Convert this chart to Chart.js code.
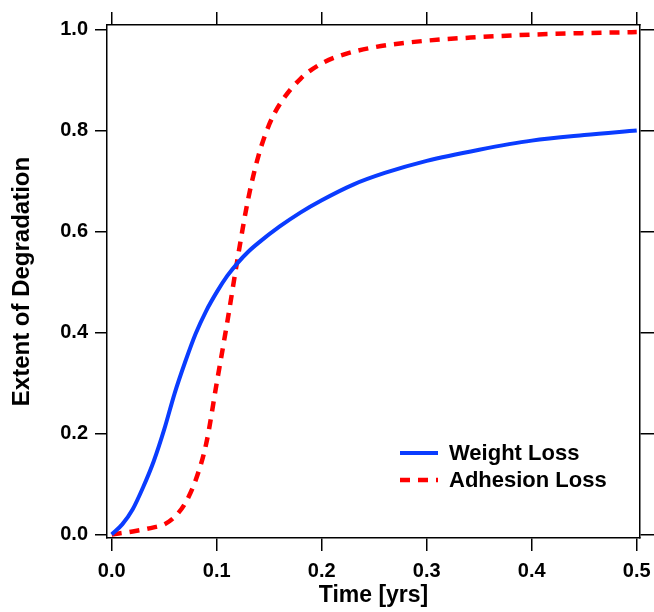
<!DOCTYPE html>
<html>
<head>
<meta charset="utf-8">
<script src="https://cdn.jsdelivr.net/npm/chart.js@4/dist/chart.umd.min.js"></script>
<style>
  body { margin: 0; background: #fff; }
  canvas { display: block; }
</style>
</head>
<body>
<canvas id="chart" width="654" height="612"></canvas>
<script>
// data
const weightTime = [0, 0.01, 0.02, 0.03, 0.04, 0.05, 0.06, 0.07, 0.08, 0.09, 0.10, 0.11, 0.12, 0.13, 0.14, 0.16, 0.18, 0.20, 0.23, 0.26, 0.30, 0.35, 0.40, 0.45, 0.50];
const weightLoss = [0, 0.020, 0.050, 0.094, 0.145, 0.208, 0.280, 0.342, 0.398, 0.443, 0.480, 0.512, 0.538, 0.560, 0.578, 0.610, 0.638, 0.662, 0.693, 0.716, 0.740, 0.762, 0.780, 0.791, 0.800];

const adhesionTime = [0, 0.02, 0.04, 0.05, 0.06, 0.07, 0.08, 0.09, 0.10, 0.11, 0.12, 0.13, 0.14, 0.15, 0.16, 0.18, 0.20, 0.22, 0.25, 0.30, 0.35, 0.40, 0.45, 0.50];
const adhesionLoss = [0, 0.006, 0.014, 0.020, 0.035, 0.062, 0.108, 0.180, 0.300, 0.420, 0.548, 0.665, 0.752, 0.812, 0.852, 0.903, 0.933, 0.950, 0.965, 0.978, 0.985, 0.990, 0.993, 0.995];

const xTicks = [0, 0.1, 0.2, 0.3, 0.4, 0.5];
const yTicks = [0, 0.2, 0.4, 0.6, 0.8, 1.0];

const FONT = '"Liberation Sans", Arial, Helvetica, sans-serif';

function pts(xs, ys) {
  return xs.map((x, i) => ({x: x, y: ys[i]}));
}

// legend drawn inside the plot, lower right
const insideLegend = {
  id: 'insideLegend',
  afterDatasetsDraw(chart) {
    const ctx = chart.ctx;
    const a = chart.chartArea;
    ctx.save();
    chart.data.datasets.forEach((ds, i) => {
      const y = a.bottom - 85 + i * 27;
      ctx.beginPath();
      ctx.strokeStyle = ds.borderColor;
      ctx.lineWidth = ds.borderWidth;
      ctx.setLineDash(ds.borderDash || []);
      ctx.moveTo(a.right - 240, y);
      ctx.lineTo(a.right - 202, y);
      ctx.stroke();
      ctx.setLineDash([]);
      ctx.fillStyle = '#000';
      ctx.font = 'bold 22px ' + FONT;
      ctx.textBaseline = 'middle';
      ctx.textAlign = 'left';
      ctx.fillText(ds.label, a.right - 191, y + 1);
    });
    ctx.restore();
  }
};

function setTicks(list) {
  return scale => { scale.ticks = list.map(v => ({value: v})); };
}

const tickFont = {family: FONT, size: 20, weight: 'bold'};
const frame = {color: '#000', width: 1.5};

new Chart(document.getElementById('chart'), {
  type: 'line',
  data: {
    datasets: [{
      label: 'Weight Loss',
      data: pts(weightTime, weightLoss),
      borderColor: '#0a3cff',
      borderWidth: 4,
      pointRadius: 0,
      cubicInterpolationMode: 'monotone',
      fill: false
    }, {
      label: 'Adhesion Loss',
      data: pts(adhesionTime, adhesionLoss),
      borderColor: '#ff0000',
      borderWidth: 4.5,
      borderDash: [10, 8],
      pointRadius: 0,
      cubicInterpolationMode: 'monotone',
      fill: false
    }]
  },
  options: {
    responsive: false,
    animation: false,
    devicePixelRatio: 1,
    layout: {padding: 0},
    plugins: {legend: {display: false}, tooltip: {enabled: false}},
    scales: {
      x: {
        type: 'linear', position: 'bottom',
        min: -0.0045, max: 0.5031,
        afterBuildTicks: setTicks(xTicks),
        afterFit: s => { s.height = 74; s.paddingLeft = 0; s.paddingRight = 0; },
        ticks: {font: tickFont, color: '#000', padding: 8, maxRotation: 0, autoSkip: false,
                callback: v => v.toFixed(1)},
        grid: {drawOnChartArea: false, tickLength: 13, color: '#000', lineWidth: 1.5},
        border: frame,
        title: {display: true, text: 'Time [yrs]', color: '#000',
                font: {family: FONT, size: 23, weight: 'bold'}, padding: {top: 0, bottom: 3}}
      },
      x2: {
        type: 'linear', position: 'top',
        min: -0.0045, max: 0.5031,
        afterBuildTicks: setTicks(xTicks),
        afterFit: s => { s.height = 25; s.paddingLeft = 0; s.paddingRight = 0; },
        ticks: {display: false},
        grid: {drawOnChartArea: false, tickLength: 13, color: '#000', lineWidth: 1.5},
        border: frame
      },
      y: {
        type: 'linear', position: 'left',
        min: -0.007, max: 1.009,
        afterBuildTicks: setTicks(yTicks),
        afterFit: s => { s.width = 107; s.paddingTop = 0; s.paddingBottom = 0; },
        ticks: {font: tickFont, color: '#000', padding: 7, callback: v => v.toFixed(1)},
        grid: {drawOnChartArea: false, tickLength: 12, color: '#000', lineWidth: 1.5},
        border: frame,
        title: {display: true, text: 'Extent of Degradation', color: '#000',
                font: {family: FONT, size: 24, weight: 'bold'}, padding: {top: 8, bottom: 0}}
      },
      y2: {
        type: 'linear', position: 'right',
        min: -0.007, max: 1.009,
        afterBuildTicks: setTicks(yTicks),
        afterFit: s => { s.width = 14; s.paddingTop = 0; s.paddingBottom = 0; },
        ticks: {display: false},
        grid: {drawOnChartArea: false, tickLength: 14, color: '#000', lineWidth: 1.5},
        border: frame
      }
    }
  },
  plugins: [insideLegend]
});
</script>
</body>
</html>
